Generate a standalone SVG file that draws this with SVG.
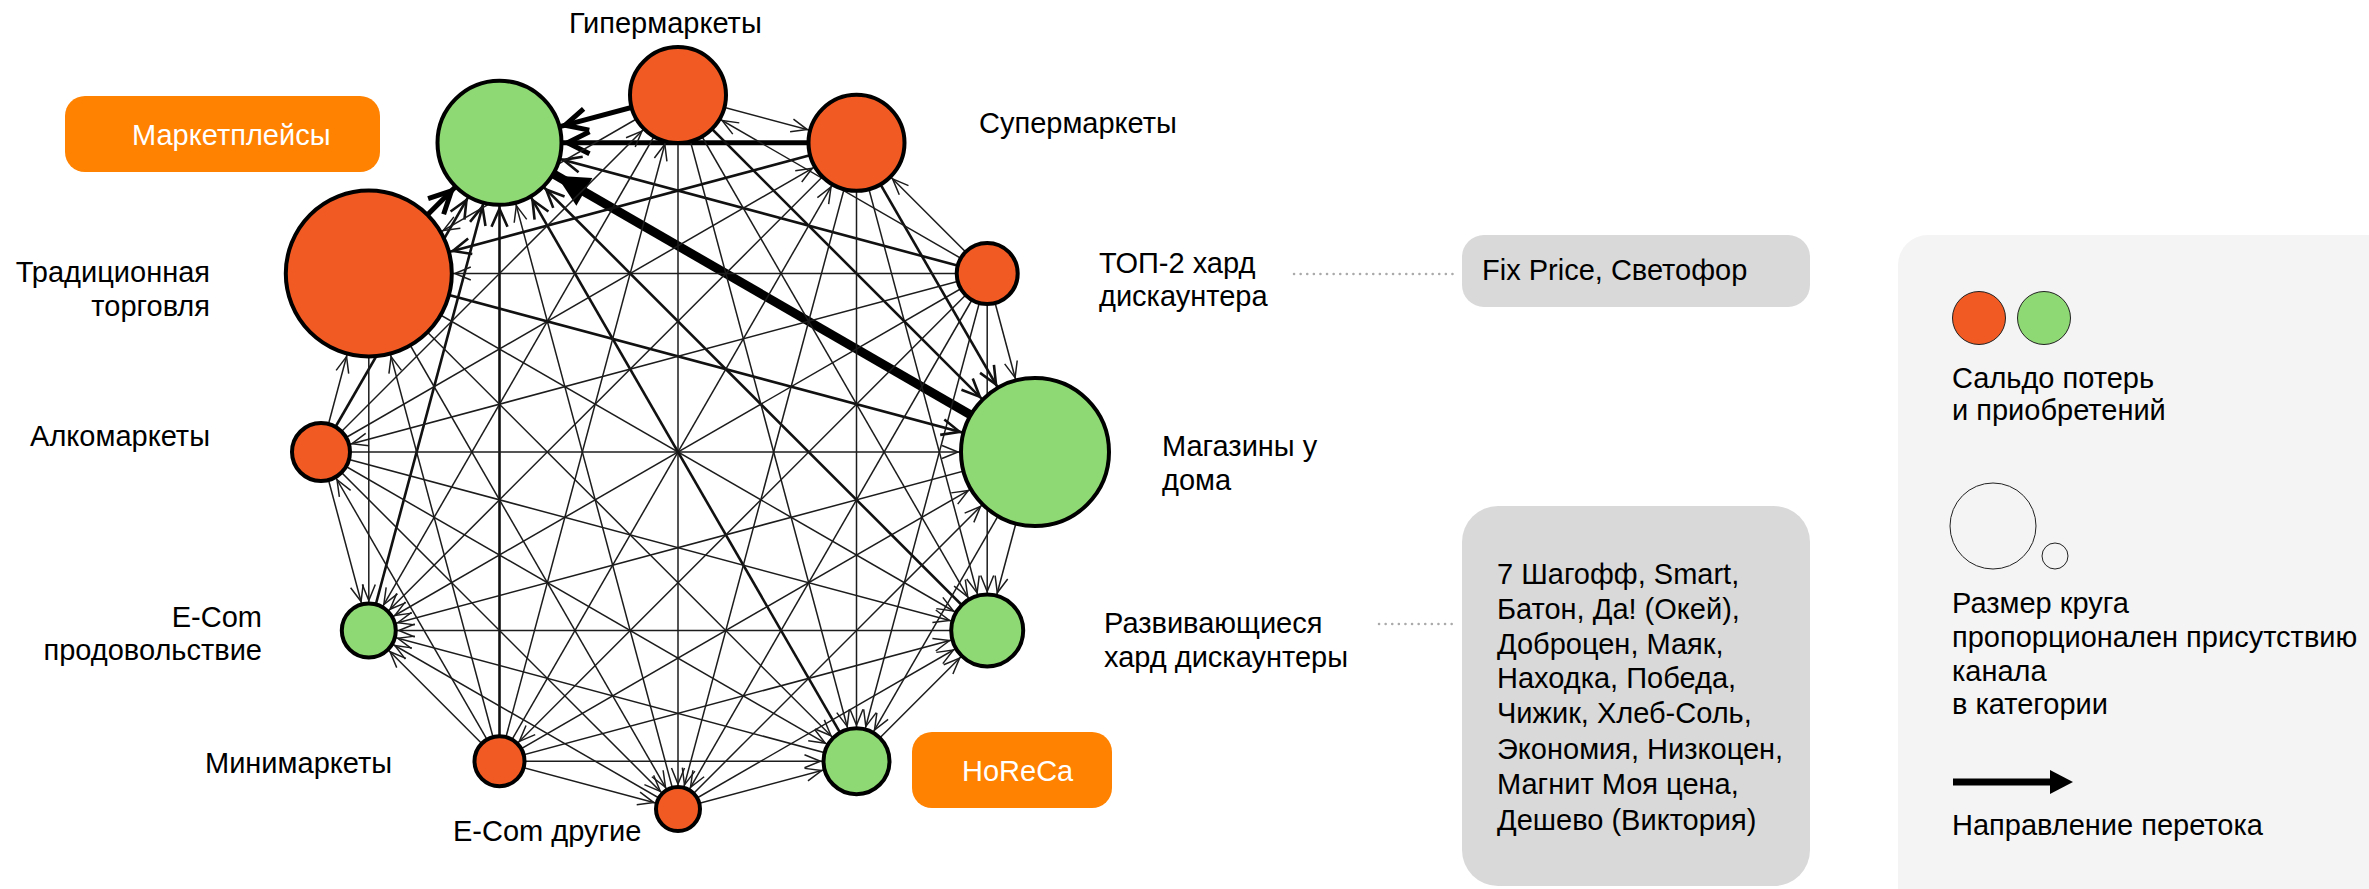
<svg xmlns="http://www.w3.org/2000/svg" width="2369" height="889" viewBox="0 0 2369 889">
<style>
.e{stroke:#1c1c1c;stroke-width:1.5;fill:none}
.m{stroke:#111;stroke-width:2.6}
.t{stroke:#000;stroke-width:5}
.v{stroke:#000;stroke-width:9}
.o{fill:#F15A22;stroke:#000;stroke-width:4}
.g{fill:#8ED973;stroke:#000;stroke-width:4}
.lbl{font-family:"Liberation Sans",Arial,sans-serif;font-size:29px;fill:#000}
.r{text-anchor:end}
.w{fill:#fff}
.chev{fill:none;stroke:#1c1c1c;stroke-width:1.5}
.dot{stroke:#aaa;stroke-width:2.5;stroke-linecap:round;stroke-dasharray:0.1 6.5}
.box{fill:#D9D9D9}
.ob{fill:#FF8200}
</style>
<defs>
<path id="ch" class="chev" d="M-16,-6.5 L0,0 L-16,6.5"/>
<marker id="a0" markerUnits="userSpaceOnUse" orient="auto" refX="51" refY="0" overflow="visible"><use href="#ch"/></marker>
<marker id="a1" markerUnits="userSpaceOnUse" orient="auto" refX="51" refY="0" overflow="visible"><use href="#ch"/></marker>
<marker id="a3" markerUnits="userSpaceOnUse" orient="auto" refX="77" refY="0" overflow="visible"><use href="#ch"/></marker>
<marker id="a4" markerUnits="userSpaceOnUse" orient="auto" refX="39" refY="0" overflow="visible"><use href="#ch"/></marker>
<marker id="a5" markerUnits="userSpaceOnUse" orient="auto" refX="36" refY="0" overflow="visible"><use href="#ch"/></marker>
<marker id="a6" markerUnits="userSpaceOnUse" orient="auto" refX="25" refY="0" overflow="visible"><use href="#ch"/></marker>
<marker id="a7" markerUnits="userSpaceOnUse" orient="auto" refX="28" refY="0" overflow="visible"><use href="#ch"/></marker>
<marker id="a8" markerUnits="userSpaceOnUse" orient="auto" refX="30" refY="0" overflow="visible"><use href="#ch"/></marker>
<marker id="a9" markerUnits="userSpaceOnUse" orient="auto" refX="32" refY="0" overflow="visible"><use href="#ch"/></marker>
<marker id="a10" markerUnits="userSpaceOnUse" orient="auto" refX="86" refY="0" overflow="visible"><use href="#ch"/></marker>
<marker id="a11" markerUnits="userSpaceOnUse" orient="auto" refX="65" refY="0" overflow="visible"><use href="#ch"/></marker>
<marker id="m11" markerUnits="userSpaceOnUse" orient="auto" refX="66" refY="0" overflow="visible"><path d="M-18,-8 L0,0 L-18,8" fill="none" stroke="#111" stroke-width="2.6"/></marker>
<marker id="m3" markerUnits="userSpaceOnUse" orient="auto" refX="78" refY="0" overflow="visible"><path d="M-18,-8 L0,0 L-18,8" fill="none" stroke="#111" stroke-width="2.6"/></marker>
<marker id="m10" markerUnits="userSpaceOnUse" orient="auto" refX="87" refY="0" overflow="visible"><path d="M-18,-8 L0,0 L-18,8" fill="none" stroke="#111" stroke-width="2.6"/></marker>
<marker id="t11" markerUnits="userSpaceOnUse" orient="auto" refX="68" refY="0" overflow="visible"><path d="M-22,-11 L0,0 L-22,11" fill="none" stroke="#000" stroke-width="5" stroke-linejoin="round"/></marker>
<marker id="v11" markerUnits="userSpaceOnUse" orient="auto" refX="66" refY="0" overflow="visible"><path d="M-32,-16 L0,0 L-32,16 Z" fill="#000"/></marker>
</defs>

<g id="connectors">
<!-- into Marketplaces -->
<line class="e t" x1="678" y1="95" x2="499.5" y2="142.8" marker-end="url(#t11)"/>
<line class="e t" x1="856.5" y1="142.8" x2="499.5" y2="142.8" marker-end="url(#t11)"/>
<line class="e m" x1="987.2" y1="273.5" x2="499.5" y2="142.8" marker-end="url(#m11)"/>
<line class="e v" x1="1035" y1="452" x2="499.5" y2="142.8" marker-end="url(#v11)"/>
<line class="e m" x1="987.2" y1="630.5" x2="499.5" y2="142.8" marker-end="url(#m11)"/>
<line class="e m" x1="856.5" y1="761.2" x2="499.5" y2="142.8" marker-end="url(#m11)"/>
<line class="e" x1="678" y1="809" x2="499.5" y2="142.8" marker-end="url(#a11)"/>
<line class="e m" x1="499.5" y1="761.2" x2="499.5" y2="142.8" marker-end="url(#m11)"/>
<line class="e m" x1="368.8" y1="630.5" x2="499.5" y2="142.8" marker-end="url(#m11)"/>
<line class="e m" x1="321" y1="452" x2="499.5" y2="142.8" marker-end="url(#m11)"/>
<line class="e t" x1="368.8" y1="273.5" x2="499.5" y2="142.8" marker-end="url(#t11)"/>
<!-- into E-Com food -->
<line class="e" x1="987.2" y1="273.5" x2="368.8" y2="630.5" marker-end="url(#a8)"/>
<line class="e" x1="499.5" y1="761.2" x2="368.8" y2="630.5" marker-end="url(#a8)"/>
<line class="e" x1="321" y1="452" x2="368.8" y2="630.5" marker-end="url(#a8)"/>
<line class="e" x1="678" y1="95" x2="368.8" y2="630.5" marker-end="url(#a8)"/>
<line class="e" x1="856.5" y1="142.8" x2="368.8" y2="630.5" marker-end="url(#a8)"/>
<line class="e" x1="368.8" y1="273.5" x2="368.8" y2="630.5" marker-end="url(#a8)"/>
<line class="e" x1="678" y1="809" x2="368.8" y2="630.5" marker-end="url(#a8)"/>
<line class="e" x1="1035" y1="452" x2="368.8" y2="630.5" marker-end="url(#a8)"/>
<line class="e" x1="856.5" y1="761.2" x2="368.8" y2="630.5" marker-end="url(#a8)"/>
<line class="e" x1="987.2" y1="630.5" x2="368.8" y2="630.5" marker-end="url(#a8)"/>
<!-- into developing hard discounters -->
<line class="e" x1="987.2" y1="273.5" x2="987.2" y2="630.5" marker-end="url(#a4)"/>
<line class="e" x1="499.5" y1="761.2" x2="987.2" y2="630.5" marker-end="url(#a4)"/>
<line class="e" x1="321" y1="452" x2="987.2" y2="630.5" marker-end="url(#a4)"/>
<line class="e" x1="678" y1="95" x2="987.2" y2="630.5" marker-end="url(#a4)"/>
<line class="e" x1="856.5" y1="142.8" x2="987.2" y2="630.5" marker-end="url(#a4)"/>
<line class="e" x1="368.8" y1="273.5" x2="987.2" y2="630.5" marker-end="url(#a4)"/>
<line class="e" x1="678" y1="809" x2="987.2" y2="630.5" marker-end="url(#a4)"/>
<line class="e" x1="1035" y1="452" x2="987.2" y2="630.5" marker-end="url(#a4)"/>
<line class="e" x1="856.5" y1="761.2" x2="987.2" y2="630.5" marker-end="url(#a4)"/>
<!-- into HoReCa -->
<line class="e" x1="987.2" y1="273.5" x2="856.5" y2="761.2" marker-end="url(#a5)"/>
<line class="e" x1="499.5" y1="761.2" x2="856.5" y2="761.2" marker-end="url(#a5)"/>
<line class="e" x1="321" y1="452" x2="856.5" y2="761.2" marker-end="url(#a5)"/>
<line class="e" x1="678" y1="95" x2="856.5" y2="761.2" marker-end="url(#a5)"/>
<line class="e" x1="856.5" y1="142.8" x2="856.5" y2="761.2" marker-end="url(#a5)"/>
<line class="e" x1="368.8" y1="273.5" x2="856.5" y2="761.2" marker-end="url(#a5)"/>
<line class="e" x1="678" y1="809" x2="856.5" y2="761.2" marker-end="url(#a5)"/>
<line class="e" x1="1035" y1="452" x2="856.5" y2="761.2" marker-end="url(#a5)"/>
<!-- into stores near home -->
<line class="e" x1="987.2" y1="273.5" x2="1035" y2="452" marker-end="url(#a3)"/>
<line class="e" x1="499.5" y1="761.2" x2="1035" y2="452" marker-end="url(#a3)"/>
<line class="e" x1="321" y1="452" x2="1035" y2="452" marker-end="url(#a3)"/>
<line class="e m" x1="678" y1="95" x2="1035" y2="452" marker-end="url(#m3)"/>
<line class="e m" x1="856.5" y1="142.8" x2="1035" y2="452" marker-end="url(#m3)"/>
<line class="e m" x1="368.8" y1="273.5" x2="1035" y2="452" marker-end="url(#m3)"/>
<line class="e" x1="678" y1="809" x2="1035" y2="452" marker-end="url(#a3)"/>
<!-- into E-Com other -->
<line class="e" x1="987.2" y1="273.5" x2="678" y2="809" marker-end="url(#a6)"/>
<line class="e" x1="499.5" y1="761.2" x2="678" y2="809" marker-end="url(#a6)"/>
<line class="e" x1="321" y1="452" x2="678" y2="809" marker-end="url(#a6)"/>
<line class="e" x1="678" y1="95" x2="678" y2="809" marker-end="url(#a6)"/>
<line class="e" x1="856.5" y1="142.8" x2="678" y2="809" marker-end="url(#a6)"/>
<line class="e" x1="368.8" y1="273.5" x2="678" y2="809" marker-end="url(#a6)"/>
<!-- into traditional trade -->
<line class="e" x1="987.2" y1="273.5" x2="368.8" y2="273.5" marker-end="url(#a10)"/>
<line class="e" x1="499.5" y1="761.2" x2="368.8" y2="273.5" marker-end="url(#a10)"/>
<line class="e" x1="321" y1="452" x2="368.8" y2="273.5" marker-end="url(#a10)"/>
<line class="e" x1="678" y1="95" x2="368.8" y2="273.5" marker-end="url(#a10)"/>
<line class="e m" x1="856.5" y1="142.8" x2="368.8" y2="273.5" marker-end="url(#m10)"/>
<!-- into supermarkets -->
<line class="e" x1="987.2" y1="273.5" x2="856.5" y2="142.8" marker-end="url(#a1)"/>
<line class="e" x1="499.5" y1="761.2" x2="856.5" y2="142.8" marker-end="url(#a1)"/>
<line class="e" x1="321" y1="452" x2="856.5" y2="142.8" marker-end="url(#a1)"/>
<line class="e" x1="678" y1="95" x2="856.5" y2="142.8" marker-end="url(#a1)"/>
<!-- into hypermarkets -->
<line class="e" x1="987.2" y1="273.5" x2="678" y2="95" marker-end="url(#a0)"/>
<line class="e" x1="499.5" y1="761.2" x2="678" y2="95" marker-end="url(#a0)"/>
<line class="e" x1="321" y1="452" x2="678" y2="95" marker-end="url(#a0)"/>
<!-- into alco -->
<line class="e" x1="987.2" y1="273.5" x2="321" y2="452" marker-end="url(#a9)"/>
<line class="e" x1="499.5" y1="761.2" x2="321" y2="452" marker-end="url(#a9)"/>
<!-- into minimarkets -->
<line class="e" x1="987.2" y1="273.5" x2="499.5" y2="761.2" marker-end="url(#a7)"/>
</g>

<g id="node-hyper"><circle class="o" cx="678" cy="95" r="48"/><text class="lbl" x="569" y="33">Гипермаркеты</text></g>
<g id="node-super"><circle class="o" cx="856.5" cy="142.8" r="48"/><text class="lbl" x="979" y="133">Супермаркеты</text></g>
<g id="node-top2"><circle class="o" cx="987.2" cy="273.5" r="30.5"/><text class="lbl" x="1099" y="273">ТОП-2 хард</text><text class="lbl" x="1099" y="306">дискаунтера</text></g>
<g id="node-home"><circle class="g" cx="1035" cy="452" r="74"/><text class="lbl" x="1162" y="456">Магазины у</text><text class="lbl" x="1162" y="490">дома</text></g>
<g id="node-devhd"><circle class="g" cx="987.2" cy="630.5" r="36"/><text class="lbl" x="1104" y="633">Развивающиеся</text><text class="lbl" x="1104" y="667">хард дискаунтеры</text></g>
<g id="node-horeca"><circle class="g" cx="856.5" cy="761.2" r="33"/><rect class="ob" x="912" y="732" width="200" height="76" rx="20"/><text class="lbl w" x="962" y="781">HoReCa</text></g>
<g id="node-ecom-other"><circle class="o" cx="678" cy="809" r="22"/><text class="lbl" x="453" y="841">E-Com другие</text></g>
<g id="node-mini"><circle class="o" cx="499.5" cy="761.2" r="25"/><text class="lbl" x="205" y="773">Минимаркеты</text></g>
<g id="node-ecom-food"><circle class="g" cx="368.8" cy="630.5" r="27"/><text class="lbl r" x="262" y="627">E-Com</text><text class="lbl r" x="262" y="660">продовольствие</text></g>
<g id="node-alco"><circle class="o" cx="321" cy="452" r="29"/><text class="lbl r" x="210" y="446">Алкомаркеты</text></g>
<g id="node-trad"><circle class="o" cx="368.8" cy="273.5" r="83"/><text class="lbl r" x="210" y="282">Традиционная</text><text class="lbl r" x="210" y="316">торговля</text></g>
<g id="node-mp"><circle class="g" cx="499.5" cy="142.8" r="62"/><rect class="ob" x="65" y="96" width="315" height="76" rx="20"/><text class="lbl w" x="132" y="145">Маркетплейсы</text></g>

<g id="note-top2">
<line class="dot" x1="1294" y1="274" x2="1458" y2="274"/>
<rect class="box" x="1462" y="235" width="348" height="72" rx="22"/>
<text class="lbl" x="1482" y="280">Fix Price, Светофор</text>
</g>
<g id="note-devhd">
<line class="dot" x1="1379" y1="624" x2="1458" y2="624"/>
<rect class="box" x="1462" y="506" width="348" height="380" rx="36"/>
<text class="lbl" x="1497" y="584">7 Шагофф, Smart,</text>
<text class="lbl" x="1497" y="619">Батон, Да! (Окей),</text>
<text class="lbl" x="1497" y="654">Доброцен, Маяк,</text>
<text class="lbl" x="1497" y="688">Находка, Победа,</text>
<text class="lbl" x="1497" y="723">Чижик, Хлеб-Соль,</text>
<text class="lbl" x="1497" y="759">Экономия, Низкоцен,</text>
<text class="lbl" x="1497" y="794">Магнит Моя цена,</text>
<text class="lbl" x="1497" y="830">Дешево (Виктория)</text>
</g>

<g id="legend">
<rect x="1898" y="235" width="520" height="700" rx="30" fill="#F4F4F4"/>
<circle cx="1979" cy="318" r="26.5" fill="#F15A22" stroke="#222" stroke-width="1"/>
<circle cx="2044" cy="318" r="26.5" fill="#8ED973" stroke="#222" stroke-width="1"/>
<text class="lbl" x="1952" y="388">Сальдо потерь</text>
<text class="lbl" x="1952" y="420">и приобретений</text>
<circle cx="1993" cy="526" r="43" fill="none" stroke="#222" stroke-width="1"/>
<circle cx="2055" cy="556" r="13" fill="none" stroke="#222" stroke-width="1"/>
<text class="lbl" x="1952" y="613">Размер круга</text>
<text class="lbl" x="1952" y="647">пропорционален присутствию</text>
<text class="lbl" x="1952" y="681">канала</text>
<text class="lbl" x="1952" y="714">в категории</text>
<line x1="1953" y1="782" x2="2052" y2="782" stroke="#000" stroke-width="7"/>
<polygon points="2050,770 2073,782 2050,794" fill="#000"/>
<text class="lbl" x="1952" y="835">Направление перетока</text>
</g>
</svg>
